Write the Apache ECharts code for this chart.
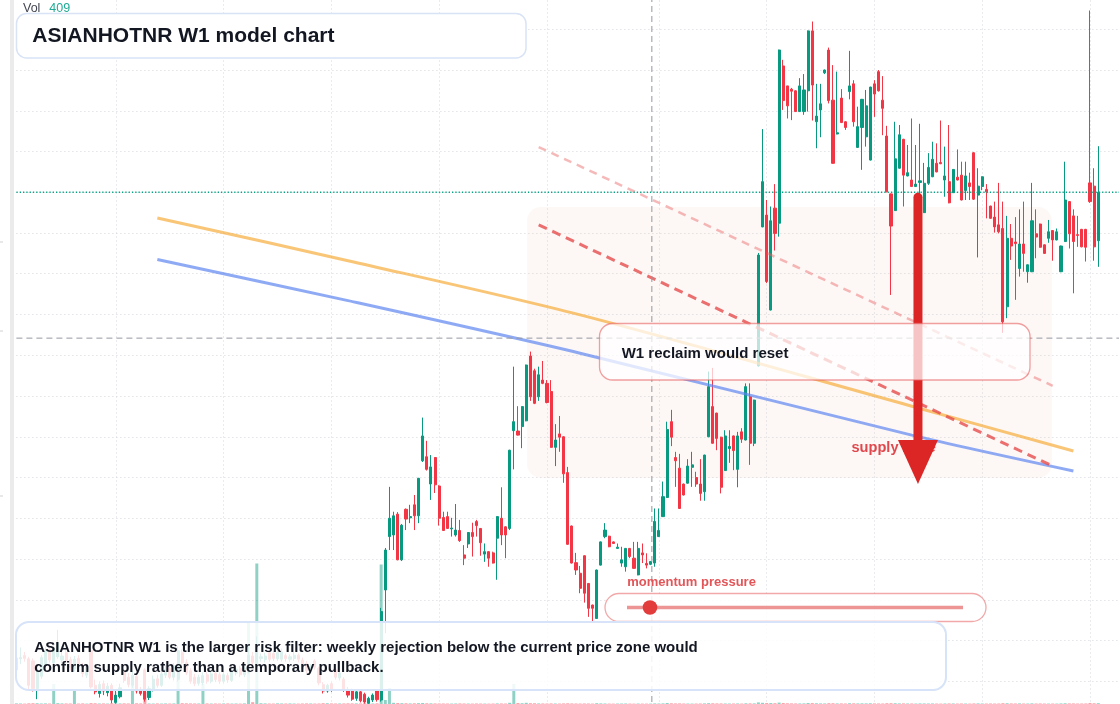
<!DOCTYPE html>
<html><head><meta charset="utf-8">
<script src="https://cdn.jsdelivr.net/npm/echarts@6/dist/echarts.min.js"></script>
<style>html,body{margin:0;padding:0;background:#fff;width:1120px;height:704px;overflow:hidden;position:relative}#c{position:absolute;left:0;top:-12px;width:1120px;height:760px}</style>
</head><body><div id="c"></div>
<script>
// ---------- data (weekly candles: [open, close, low, high]) ----------
const symbolName = 'ASIANHOTNR';
const weeklyOHLC = [
[132.8,135.7,132.0,136.5],[135.5,135.8,134.2,138.3],[136.3,135.6,134.8,137.2],[135.5,129.0,128.0,136.0],[135.0,128.2,127.5,135.6],
[128.2,132.7,125.6,133.0],[131.2,135.8,130.6,136.4],[134.0,137.6,133.5,138.5],[137.8,135.2,134.6,139.0],[134.5,138.0,133.8,139.5],
[136.0,139.5,135.5,142.6],[135.2,136.2,134.0,138.0],[137.0,135.0,134.3,138.2],[135.3,133.4,132.6,136.0],[133.0,135.4,132.4,136.2],
[135.6,133.5,133.0,136.4],[133.8,131.9,131.0,134.5],[131.5,133.6,130.8,134.0],[137.5,128.6,128.2,138.2],[129.0,127.4,126.8,130.4],
[127.0,129.2,126.0,130.0],[129.4,127.6,126.6,130.2],[127.2,128.8,126.3,129.6],[129.0,125.4,124.6,129.5],[124.8,126.6,124.5,127.8],
[126.2,128.4,125.8,129.4],[132.5,130.2,129.6,133.4],[131.0,129.2,128.5,132.0],[129.0,131.5,128.4,132.6],[131.2,127.6,127.0,131.8],
[128.0,127.0,126.5,128.6],[132.8,125.6,125.0,133.2],[126.0,128.2,125.4,128.8],[128.0,130.5,127.5,131.4],[130.6,129.0,128.4,131.6],
[129.0,131.8,128.6,132.6],[131.5,133.0,130.8,134.0],[133.2,131.0,130.5,133.8],[131.0,133.8,130.2,134.5],[130.5,137.5,130.0,138.6],
[137.0,134.5,134.0,137.8],[134.6,132.0,131.5,135.4],[132.6,130.0,129.4,133.2],[131.0,129.4,128.8,131.8],[129.5,131.0,128.9,131.6],
[129.6,131.4,129.0,132.2],[131.6,130.0,129.4,132.4],[130.0,131.8,129.5,132.6],[132.0,130.4,129.8,132.6],[131.6,130.0,129.3,132.2],
[130.0,131.6,129.4,132.4],[131.4,130.3,129.6,132.0],[130.2,132.6,129.8,133.2],[132.0,133.0,131.4,133.8],[133.2,131.6,131.0,133.8],
[131.6,133.2,131.0,134.0],[132.2,136.4,131.8,138.5],[136.2,134.6,134.0,137.2],[134.0,137.2,133.2,141.0],[135.6,136.0,134.8,136.8],
[135.3,136.2,134.6,137.0],[137.0,135.4,134.8,137.8],[136.8,135.6,135.0,137.4],[135.5,137.0,135.0,137.6],[135.4,137.2,134.8,138.0],
[136.3,135.5,134.8,136.8],[135.4,136.0,134.8,136.6],[135.6,136.4,135.0,137.2],[136.4,135.4,134.6,136.8],[135.2,133.0,132.5,135.8],
[134.4,132.6,132.0,135.0],[132.6,133.6,132.0,134.2],[135.0,133.4,132.8,135.4],[133.2,129.6,129.0,133.6],[129.2,127.6,127.0,129.8],
[127.6,129.0,127.2,129.4],[129.4,128.0,127.4,130.0],[132.8,131.0,130.4,133.4],[130.8,132.0,130.2,132.6],[130.5,128.0,127.4,131.0],
[128.0,126.6,126.0,128.6],[127.8,125.6,125.2,128.2],[125.8,127.4,125.2,127.8],[127.4,125.2,124.8,127.8],[126.8,124.9,124.5,127.2],
[124.6,125.8,124.45,126.2],[125.4,126.6,124.9,127.0],[127.8,125.5,125.0,128.0],[125.4,147.1,125.0,148.0],[152.4,162.2,141.8,162.7],
[165.5,170.0,162.2,177.7],[165.9,170.6,162.2,171.6],[171.0,159.8,159.7,171.5],[159.8,168.3,159.5,168.6],[172.2,169.8,167.1,172.4],
[170.1,170.4,168.8,173.3],[173.3,170.6,167.1,175.7],[170.6,179.8,168.8,179.9],[184.1,190.2,183.8,194.7],[185.1,182.0,181.7,189.0],
[178.4,182.6,174.5,185.5],[184.9,178.2,176.2,185.0],[177.9,170.0,168.2,178.1],[170.2,167.0,166.9,171.6],[170.4,167.5,167.4,171.6],
[167.4,167.6,165.5,170.1],[165.9,167.1,165.5,173.5],[167.0,164.5,164.2,169.6],[161.0,160.2,158.5,163.4],[163.7,166.5,162.7,166.6],
[166.5,165.5,160.6,168.9],[169.2,168.2,165.5,169.6],[167.5,164.0,160.8,167.6],[161.2,161.8,159.3,163.8],[161.8,160.2,158.1,161.9],
[161.5,159.0,158.9,161.8],[165.1,170.4,154.9,170.5],[170.0,165.9,163.4,177.6],[167.9,165.9,160.2,168.0],[167.5,186.7,167.1,186.8],
[191.5,193.7,182.0,207.2],[191.4,190.4,190.3,197.5],[192.5,197.4,187.2,197.5],[193.9,207.6,193.8,207.7],[209.8,199.8,198.8,210.9],
[206.2,198.2,198.0,206.7],[199.8,205.2,198.8,207.2],[203.9,203.1,202.9,208.6],[203.1,198.4,198.2,203.9],[201.1,187.4,187.3,203.9],
[187.4,189.2,182.8,193.1],[190.7,189.9,186.3,195.1],[190.0,180.9,178.7,190.1],[181.2,163.6,163.5,182.6],[168.1,159.0,158.9,168.2],
[159.1,157.3,156.1,161.5],[156.5,152.8,151.6,158.3],[160.8,151.6,149.3,160.9],[154.0,147.9,145.8,154.1],[148.7,147.9,144.6,148.8],
[145.4,157.3,145.3,157.4],[158.5,164.2,158.4,164.3],[165.5,167.1,165.1,168.8],[165.6,163.0,162.9,165.7],[164.2,163.8,163.7,164.3],
[162.6,162.9,162.5,163.8],[159.0,159.8,158.1,163.0],[158.1,162.6,156.9,162.7],[162.6,160.6,160.2,162.7],[160.2,157.7,157.6,164.2],
[156.1,162.6,156.0,164.2],[161.5,161.0,159.0,163.8],[158.9,158.5,157.7,161.4],[158.7,159.4,158.5,159.5],[159.0,169.2,158.1,172.4],
[165.5,167.0,165.4,172.4],[170.4,175.3,170.3,179.0],[175.1,191.8,175.0,193.7],[193.7,189.9,187.7,196.6],[184.9,184.1,177.7,186.3],
[182.3,172.4,172.3,185.8],[178.4,175.7,175.6,178.5],[178.6,182.8,178.5,184.5],[182.5,183.1,177.7,186.3],[180.0,178.4,177.7,181.4],
[178.4,176.1,174.3,184.5],[176.5,185.5,174.3,185.6],[190.0,202.3,189.9,206.0],[197.4,188.4,188.3,206.9],[195.8,189.6,186.7,195.9],
[189.9,177.6,176.1,190.0],[181.7,190.2,181.6,191.6],[187.1,187.6,183.6,191.6],[190.2,186.6,181.8,190.3],[182.0,190.2,177.6,191.2],
[191.2,189.4,188.5,192.1],[189.2,202.3,189.1,203.1],[199.8,188.4,183.1,203.1],[188.4,199.0,187.7,199.1],[207.4,234.6,207.2,235.1],
[241.5,252.6,241.4,265.5],[244.4,228.1,227.7,248.1],[221.1,243.0,221.0,246.5],[246.1,239.9,235.7,252.0],[242.4,284.9,239.1,285.0],
[281.0,272.5,270.2,282.5],[276.1,271.2,268.1,276.1],[275.3,274.8,267.7,275.6],[274.9,269.8,269.7,275.0],[269.8,276.1,269.7,278.0],
[269.8,275.1,269.0,279.0],[274.9,289.6,269.8,289.7],[289.6,276.3,267.6,291.9],[267.3,268.7,260.8,276.6],[270.2,271.7,263.5,276.6],
[279.3,280.0,279.0,280.1],[284.9,272.5,271.8,285.5],[272.6,257.1,257.0,281.2],[264.3,264.6,264.2,279.6],[273.1,267.1,267.0,275.3],
[267.3,265.9,265.3,267.4],[274.7,276.1,272.8,284.7],[276.6,267.3,266.1,277.5],[261.0,266.1,260.9,271.0],[265.9,272.8,255.5,272.9],
[263.6,271.2,261.2,275.1],[257.9,275.8,257.8,275.9],[276.6,274.1,268.5,277.5],[279.6,274.9,274.7,280.0],[272.6,270.6,264.0,278.5],
[263.8,250.1,250.0,266.3],[249.6,241.7,224.8,249.7],[245.5,258.2,245.4,267.3],[255.9,264.1,255.8,266.5],[263.0,254.2,246.5,263.1],
[254.0,254.8,253.9,261.6],[253.0,251.4,251.3,268.1],[251.4,252.0,251.3,261.6],[252.4,252.8,244.8,266.8],[245.0,252.2,244.9,257.2],
[252.2,256.1,251.8,259.6],[253.8,258.1,253.7,262.4],[257.1,255.0,254.9,262.0],[257.3,257.0,256.9,267.6],[253.0,254.0,248.9,261.2],
[252.6,247.4,247.3,266.5],[249.9,255.6,249.8,255.7],[253.7,253.0,252.9,260.5],[254.2,248.1,248.0,257.5],[250.4,254.0,248.1,257.5],
[252.3,251.4,248.1,254.8],[259.7,248.3,248.1,259.8],[249.3,251.5,234.0,255.9],[251.4,253.8,250.5,253.9],[250.7,250.1,243.6,252.0],
[246.6,243.6,243.5,246.7],[243.9,241.5,240.1,247.7],[242.0,240.3,239.9,252.3],[241.1,218.2,215.5,247.7],[221.9,238.7,219.1,244.2],
[238.7,236.8,233.4,242.2],[237.8,237.4,223.6,243.9],[231.3,237.3,229.3,245.8],[237.3,235.0,230.5,247.7],[230.5,232.2,227.8,232.3],
[230.5,243.0,230.4,252.3],[239.8,239.0,233.8,245.8],[242.2,236.5,236.4,242.3],[237.1,235.0,234.9,237.2],[238.7,240.3,237.6,243.2],
[240.6,238.3,233.2,240.7],[238.3,240.3,238.2,241.1],[230.5,236.8,230.4,236.9],[237.9,248.1,237.8,257.5],[247.7,239.8,236.2,247.8],
[244.2,237.9,225.2,245.8],[239.6,239.4,236.6,244.2],[240.9,236.6,236.5,241.0],[240.9,236.5,233.0,241.0],[252.3,247.7,247.4,294.6],
[251.5,236.6,233.2,255.9],[238.1,250.0,231.7,261.3]
];
const weeklyVolume = [
300,250,200,350,400,380,260,300,240,10000,
420,300,280,260,7500,240,310,200,450,380,
260,300,220,410,350,290,330,280,12500,360,
300,6000,260,240,300,220,280,250,300,15000,
420,350,300,280,260,10000,300,240,260,220,
280,300,240,260,220,300,40500,900,70000,380,
300,260,240,320,280,260,300,240,220,260,
300,280,240,260,420,380,300,260,280,300,
350,320,300,280,360,300,260,340,69500,2000,
8000,600,500,420,380,300,360,420,500,380,
340,300,280,260,240,220,260,300,280,240,
220,260,240,220,200,240,300,280,240,600,
10000,500,400,600,420,380,300,280,260,320,
260,240,300,360,300,260,240,280,260,220,
400,320,260,220,200,220,240,260,220,200,
240,220,200,220,300,260,320,500,380,300,
320,260,240,220,240,260,300,420,380,320,
300,260,240,260,280,240,360,340,320,800,
600,500,480,420,700,500,380,320,300,280,
320,500,480,360,300,280,420,400,300,320,
260,380,360,300,340,320,360,300,280,260,
400,420,380,300,320,260,280,240,300,280,
260,280,240,220,260,300,280,240,260,240,
220,300,320,260,240,260,240,260,420,380,
300,280,300,260,240,340,260,280,240,220,
240,220,300,360,320,300,240,260,280,520,
380,409
];
// trend curves: [bar index, price]
const orangeTrend = [[34,243.7],[80,233.2],[136,219.9],[216,197.5],[255,186.5]];
const blueTrend = [[34,233.5],[80,223.4],[136,210.5],[216,190.4],[255,181.6]];
const dashLight = [[126,261.1],[250,202.5]];
const dashStrong = [[126,242.0],[250,182.8]];
const zoneIndexRange = [123.2, 249.8];
const zonePriceRange = [179.9, 246.4];
const lastPrice = 250;
const crossIndex = 153.3, crossPrice = 214.2;
const arrowIndex = 217.5, arrowFrom = 248.8, arrowTo = 187.5, arrowHeadPrice = 183.8;
const priceAxis = {min: 120, max: 300, step: 10};
const volumeMax = 70000;

// weekly dates (categories)
const N_CAT = 267;
const START = Date.UTC(2005, 0, 17);
const weeks = [];
for (let i = 0; i < N_CAT; i++) weeks.push(new Date(START + i * 7 * 864e5).toISOString().slice(0, 10));
function halfYearStart(i) {
  if (i <= 0) return false;
  const m = +weeks[i].slice(5, 7), pm = +weeks[i - 1].slice(5, 7);
  return m !== pm && (m === 1 || m === 7);
}

const OFF = 12; // the chart canvas is shifted 12px up so the price pane can start above the window
const Y = (v) => v + OFF;
const UP = '#089981', DOWN = '#f23645';
const FONT = '"Liberation Sans", Arial, Helvetica, sans-serif';
const gridDots = {color: '#d3d6dc', width: 1, type: [1, 3]};

const chart = echarts.init(document.getElementById('c'), null, {renderer: 'canvas'});
const option = {
  animation: false,
  backgroundColor: '#ffffff',
  grid: [
    {left: 16.4, width: 1102.6, top: 0.5, height: 733.5},
    {left: 16.4, width: 1102.6, top: Y(563.5), height: 140.5}
  ],
  xAxis: [
    {type: 'category', gridIndex: 0, data: weeks, boundaryGap: false,
     axisLine: {show: false}, axisTick: {show: false}, axisLabel: {show: false},
     splitLine: {show: true, interval: (i) => halfYearStart(i), lineStyle: gridDots}},
    {type: 'value', gridIndex: 0, min: 0, max: N_CAT - 1, show: false},
    {type: 'category', gridIndex: 1, data: weeks, boundaryGap: false, show: false}
  ],
  yAxis: [
    {type: 'value', gridIndex: 0, min: priceAxis.min, max: priceAxis.max, interval: priceAxis.step,
     axisLine: {show: false}, axisTick: {show: false}, axisLabel: {show: false},
     splitLine: {show: true, lineStyle: gridDots}},
    {type: 'value', gridIndex: 1, min: 0, max: volumeMax, show: false}
  ],
  series: [
    {type: 'bar', name: 'Vol', xAxisIndex: 2, yAxisIndex: 1, barWidth: 3, z: 2,
     data: weeklyVolume.map((v, i) => ({value: v, itemStyle: {color: weeklyOHLC[i][1] >= weeklyOHLC[i][0] ? 'rgba(8,153,129,0.45)' : 'rgba(242,54,69,0.45)'}}))},
    {type: 'candlestick', name: symbolName, xAxisIndex: 0, yAxisIndex: 0, data: weeklyOHLC, barWidth: 2.6, z: 3,
     itemStyle: {color: UP, color0: DOWN, borderColor: UP, borderColor0: DOWN, borderWidth: 1}},
    {type: 'line', xAxisIndex: 1, yAxisIndex: 0, data: orangeTrend, smooth: 0.3, symbol: 'none', z: 4,
     lineStyle: {color: 'rgba(246,166,45,0.65)', width: 3}},
    {type: 'line', xAxisIndex: 1, yAxisIndex: 0, data: blueTrend, smooth: 0.3, symbol: 'none', z: 4,
     lineStyle: {color: 'rgba(90,130,240,0.68)', width: 3}},
    {type: 'line', xAxisIndex: 1, yAxisIndex: 0, data: dashLight, symbol: 'none', z: 5,
     lineStyle: {color: 'rgba(232,100,100,0.45)', width: 2.5, type: [8, 6]}},
    {type: 'line', xAxisIndex: 1, yAxisIndex: 0, data: dashStrong, symbol: 'none', z: 5,
     lineStyle: {color: 'rgba(228,72,72,0.78)', width: 3, type: [9, 6]}},
    {type: 'line', xAxisIndex: 1, yAxisIndex: 0, data: [[0, lastPrice], [N_CAT - 1, lastPrice]], symbol: 'none', z: 5,
     lineStyle: {color: '#07a386', width: 1.3, type: [1.3, 2]}},
    {type: 'line', xAxisIndex: 1, yAxisIndex: 0, data: [[crossIndex, priceAxis.min], [crossIndex, priceAxis.max]], symbol: 'none', z: 6,
     lineStyle: {color: '#9598a1', width: 1, type: [6, 4]}},
    {type: 'line', xAxisIndex: 1, yAxisIndex: 0, data: [[0, crossPrice], [N_CAT - 1, crossPrice]], symbol: 'none', z: 6,
     lineStyle: {color: '#9598a1', width: 1, type: [6, 4]}},
    {type: 'line', xAxisIndex: 1, yAxisIndex: 0, data: [[arrowIndex, arrowFrom], [arrowIndex, arrowTo]], symbol: 'none', z: 9,
     lineStyle: {color: '#dc2626', width: 9, cap: 'round'}},
    {type: 'scatter', xAxisIndex: 1, yAxisIndex: 0, data: [[arrowIndex, arrowHeadPrice]], z: 9,
     symbol: 'path://M0,0L40,0L20,44Z', symbolSize: [40, 44], itemStyle: {color: '#dc2626', opacity: 1}}
  ]
};
chart.setOption(option);

const px = (v) => chart.convertToPixel({xAxisIndex: 1}, v);
const py = (v) => chart.convertToPixel({yAxisIndex: 0}, v);
const zx0 = px(zoneIndexRange[0]), zx1 = px(zoneIndexRange[1]);
const zy0 = py(zonePriceRange[1]), zy1 = py(zonePriceRange[0]);

function txt(text, x, y, font, fill, z) {
  return {type: 'text', z: z || 21, silent: true,
    style: {text, x, y: Y(y), font, fill, align: 'left', verticalAlign: 'middle', textAlign: 'left', textVerticalAlign: 'middle'}};
}
function box(x, y, w, h, r, fill, stroke, lw, z) {
  return {type: 'rect', z: z || 20, silent: true, shape: {x, y: Y(y), width: w, height: h, r},
    style: {fill, stroke, lineWidth: lw}};
}
const graphics = [
  {type: 'rect', z: 1, silent: true, shape: {x: zx0, y: zy0, width: zx1 - zx0, height: zy1 - zy0, r: 14},
   style: {fill: 'rgba(235,200,180,0.12)'}},
  {type: 'rect', z: 30, silent: true, shape: {x: 10, y: 0, width: 4, height: 760}, style: {fill: '#ebebeb'}},
  {type: 'rect', z: 30, silent: true, shape: {x: 0, y: Y(241.5), width: 3, height: 1}, style: {fill: '#d0d0d0'}},
  {type: 'rect', z: 30, silent: true, shape: {x: 0, y: Y(330.5), width: 3, height: 1}, style: {fill: '#d0d0d0'}},
  {type: 'rect', z: 30, silent: true, shape: {x: 0, y: Y(495.5), width: 3, height: 1}, style: {fill: '#d0d0d0'}},
  // supply zone label (under the arrow)
  txt('supply zone', 851.5, 448, 'bold 14.6px ' + FONT, '#e0484d', 7),
  // title
  box(16.5, 13.5, 509.5, 44.5, 10, 'rgba(255,255,255,0.97)', '#d8e3f6', 1.5),
  txt(symbolName + ' W1 model chart', 32.3, 36, 'bold 21px ' + FONT, '#131722'),
  txt('Vol', 23, 8.5, '12.5px ' + FONT, '#434651'),
  txt(String(weeklyVolume[weeklyVolume.length - 1]), 49.3, 8.5, '12.5px ' + FONT, '#22ab94'),
  // W1 reclaim box
  box(599.5, 323.5, 430.5, 56.5, 13, 'rgba(255,255,255,0.73)', 'rgba(232,96,96,0.6)', 1.3),
  txt('W1 reclaim would reset', 621.7, 354, 'bold 15px ' + FONT, '#131722'),
  // momentum pressure
  txt('momentum pressure', 627.3, 582.5, 'bold 13px ' + FONT, '#e25558'),
  box(605, 593.5, 381, 28, 14, 'rgba(255,255,255,0.85)', 'rgba(232,96,96,0.55)', 1.3),
  {type: 'line', z: 21, silent: true, shape: {x1: 627, y1: Y(607.5), x2: 963, y2: Y(607.5)},
   style: {stroke: 'rgba(228,90,90,0.65)', lineWidth: 3.3}},
  {type: 'circle', z: 22, silent: true, shape: {cx: 650, cy: Y(607.5), r: 7.3}, style: {fill: '#e23c3c'}},
  // bottom note
  box(16, 622, 930, 68, 13, 'rgba(255,255,255,0.86)', '#d6e3f8', 2),
  txt(symbolName + ' W1 is the larger risk filter: weekly rejection below the current price zone would', 34.3, 648.3, 'bold 15px ' + FONT, '#131722'),
  txt('confirm supply rather than a temporary pullback.', 34.3, 668.3, 'bold 15px ' + FONT, '#131722')
];
chart.setOption({graphic: graphics});
</script>
</body></html>
